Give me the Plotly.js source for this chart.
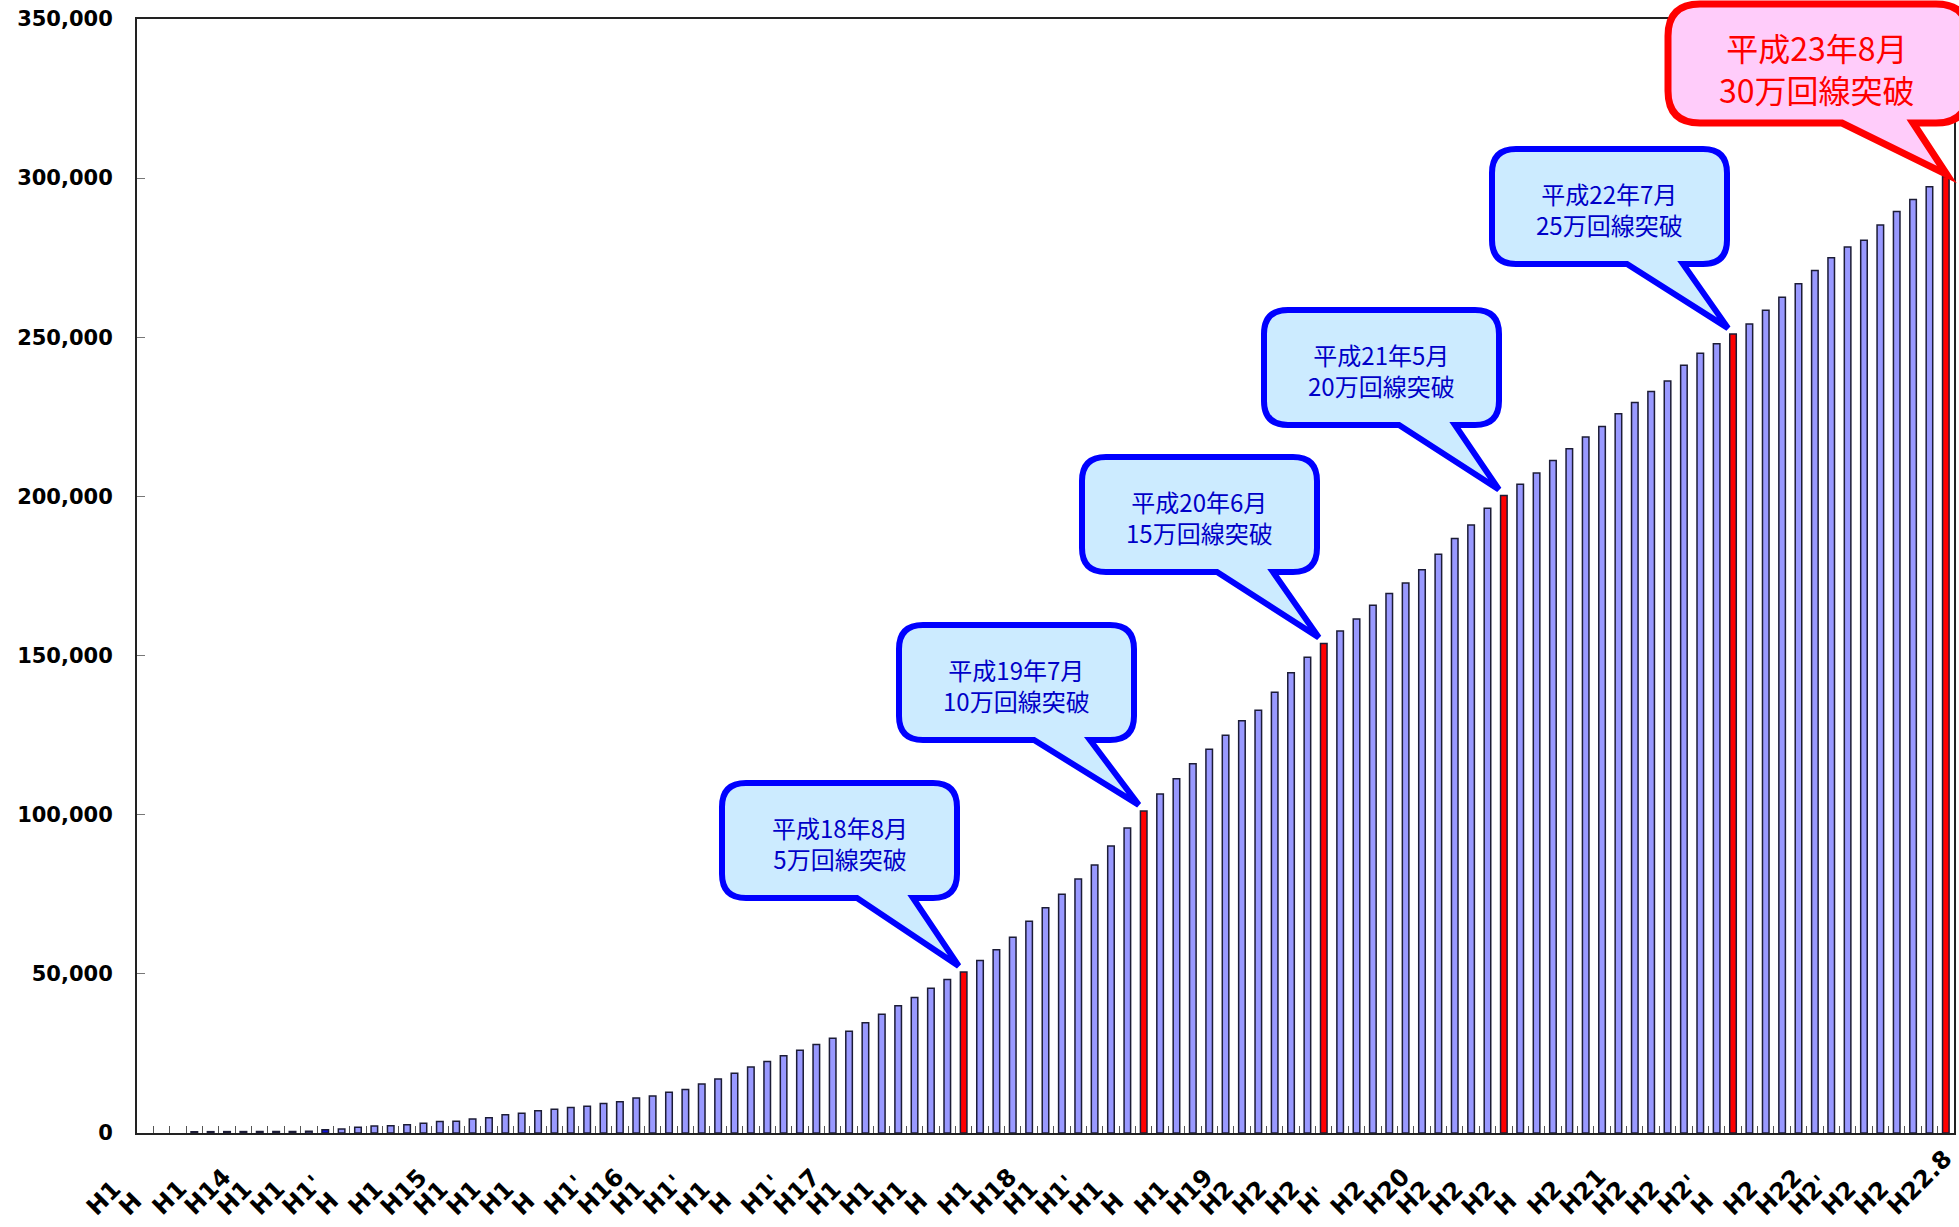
<!DOCTYPE html>
<html>
<head>
<meta charset="utf-8">
<script src="https://cdn.plot.ly/plotly-3.0.1.min.js"></script>
<style>html,body{margin:0;padding:0;background:#fff;}</style>
</head>
<body>
<div id="chart" style="width:1959px;height:1227px;"></div>
<script>
// ---------- DATA ----------
// Monthly categories from H14.6 to H23.8
const firstYear = 14, firstMonth = 6, monthCount = 111;
const categories = [];
for (let i = 0; i < monthCount; i++) {
  const m = firstMonth - 1 + i;
  categories.push('H' + (firstYear + Math.floor(m / 12)) + '.' + (m % 12 + 1));
}

// Cumulative number of lines
const lineCounts = [
  null, null, null, 400, 420, 440, 450, 470, 480, 500,
  520, 1000, 1250, 1800, 2200, 2300, 2600, 3100, 3600, 3700,
  4400, 4800, 5700, 6200, 7000, 7500, 8000, 8400, 9300, 9800,
  11000, 11600, 12800, 13700, 15400, 17000, 18800, 20700, 22500, 24300,
  26000, 27800, 29800, 32000, 34600, 37300, 40000, 42600, 45500, 48200,
  50600, 54200, 57600, 61500, 66500, 70800, 75000, 79800, 84200, 90200,
  95800, 101200, 106500, 111300, 116000, 120600, 125000, 129500, 132800, 138500,
  144600, 149500, 153800, 157700, 161500, 165800, 169500, 172800, 177000, 181800,
  186800, 191000, 196300, 200300, 203800, 207400, 211300, 215000, 218700, 222000,
  226000, 229500, 233000, 236300, 241200, 245000, 248000, 251000, 254200, 258500,
  262600, 266800, 271000, 275000, 278400, 280500, 285300, 289500, 293300, 297300,
  300500
];

// Milestone months (highlighted bars) and the first full month
const milestoneCats = ['H18.8', 'H19.7', 'H20.6', 'H21.5', 'H22.7', 'H23.8'];
const startCat = 'H15.5';

// Callout texts
const calloutLine1 = ['平成18年8月', '平成19年7月', '平成20年6月', '平成21年5月', '平成22年7月', '平成23年8月'];
const calloutLine2 = ['5万回線突破', '10万回線突破', '15万回線突破', '20万回線突破', '25万回線突破', '30万回線突破'];

// X tick labels as shown (one every two months)
const xTickLabels = [
  'H1', 'H', 'H1', 'H14', 'H1', 'H1', "H1'", 'H', 'H1', 'H15',
  'H1', 'H1', 'H1', 'H', "H1'", 'H16', 'H1', "H1'", 'H1', 'H',
  "H1'", 'H17', 'H1', 'H1', 'H1', 'H', 'H1', 'H18', 'H1', "H1'",
  'H1', 'H', 'H1', 'H19', 'H2', 'H2', 'H2', "H'", 'H2', 'H20',
  'H2', 'H2', 'H2', 'H', 'H2', 'H21', 'H2', 'H2', "H2'", 'H',
  'H2', 'H22', "H2'", 'H2', 'H2', 'H22.8'
];

const yTickVals = [0, 50000, 100000, 150000, 200000, 250000, 300000, 350000];

// ---------- LAYOUT GEOMETRY ----------
const W = 1959, H = 1227;
const M = {l: 137, r: 5, t: 19, b: 94};
const PW = W - M.l - M.r, PH = H - M.t - M.b;
const XR = [-0.5, categories.length - 0.5];
const YR = [0, 350000];
const pxX = px => (px - M.l) / PW;
const pxY = py => (H - M.b - py) / PH;
const catPx = i => M.l + (i - XR[0]) / (XR[1] - XR[0]) * PW;
const valPy = v => H - M.b - (v - YR[0]) / (YR[1] - YR[0]) * PH;

// callout box placement (pixels): left, top
const calloutBoxes = [[722, 783], [899, 625], [1082, 457], [1264, 310], [1492, 149], [1668, 4]];

const barColors = categories.map(c =>
  milestoneCats.includes(c) ? '#FF0000' : (c === startCat ? '#1010E0' : '#9999FF'));

function P(x, y) { return pxX(x).toFixed(6) + ',' + pxY(y).toFixed(6); }
function calloutPath(L, T, w, h, r, b0, b1, tx, ty) {
  return 'M' + P(L + r, T) +
    ' L' + P(L + w - r, T) +
    ' Q' + P(L + w, T) + ' ' + P(L + w, T + r) +
    ' L' + P(L + w, T + h - r) +
    ' Q' + P(L + w, T + h) + ' ' + P(L + w - r, T + h) +
    ' L' + P(L + b1, T + h) +
    ' L' + P(tx, ty) +
    ' L' + P(L + b0, T + h) +
    ' L' + P(L + r, T + h) +
    ' Q' + P(L, T + h) + ' ' + P(L, T + h - r) +
    ' L' + P(L, T + r) +
    ' Q' + P(L, T) + ' ' + P(L + r, T) + ' Z';
}

const shapes = [];
const annotations = [];

milestoneCats.forEach((cat, i) => {
  const idx = categories.indexOf(cat);
  const v = lineCounts[idx];
  const [L, T] = calloutBoxes[i];
  const isLast = i === milestoneCats.length - 1;
  if (!isLast) {
    const w = 235, h = 115;
    const tx = catPx(idx) - 5, ty = valPy(v) - 6;
    shapes.push({type: 'path', xref: 'paper', yref: 'paper', layer: 'above',
      path: calloutPath(L, T, w, h, 24, 135, 191, tx, ty),
      fillcolor: '#CCEBFF', line: {color: '#0000FF', width: 6}});
    annotations.push({xref: 'paper', yref: 'paper', x: pxX(L + w / 2), y: pxY(T + 60),
      xanchor: 'center', yanchor: 'middle', showarrow: false,
      text: calloutLine1[i] + '<br>' + calloutLine2[i],
      font: {family: 'Noto Sans CJK JP', size: 24, color: '#0000C8'}});
  } else {
    const w = 300, h = 119;
    const tx = catPx(idx) + 1, ty = valPy(v) - 2;
    shapes.push({type: 'path', xref: 'paper', yref: 'paper', layer: 'above',
      path: calloutPath(L, T, w, h, 32, 174, 245, tx, ty),
      fillcolor: '#FFCCFA', line: {color: '#FF0000', width: 7}});
    annotations.push({xref: 'paper', yref: 'paper', x: pxX(1817), y: pxY(T + 64),
      xanchor: 'center', yanchor: 'middle', showarrow: false,
      text: calloutLine1[i] + '<br>' + calloutLine2[i],
      font: {family: 'Noto Sans CJK JP', size: 32, color: '#FF0000'}});
  }
});

// rotated x labels, one every two categories
xTickLabels.forEach((t, k) => {
  annotations.push({xref: 'paper', yref: 'paper',
    x: pxX(catPx(2 * k) - 66), y: pxY(1222),
    xanchor: 'left', yanchor: 'bottom', showarrow: false, text: t, textangle: -45,
    borderpad: 0,
    font: {family: 'DejaVu Sans', size: 24, color: '#000000', weight: 'bold'}});
});

const trace = {
  type: 'bar',
  x: categories,
  y: lineCounts,
  marker: {color: barColors, line: {color: '#1c1c36', width: 1.5}},
  hoverinfo: 'skip'
};

const layout = {
  width: W, height: H, autosize: false,
  margin: M,
  paper_bgcolor: '#FFFFFF', plot_bgcolor: '#FFFFFF',
  showlegend: false,
  bargap: 0.6,
  xaxis: {
    type: 'category', range: XR, fixedrange: true,
    showline: true, mirror: true, linecolor: '#222222', linewidth: 2,
    ticks: 'inside', ticklen: 7, tickcolor: '#555555', tickwidth: 1,
    tickson: 'boundaries', tickmode: 'linear', tick0: 0, dtick: 1,
    showticklabels: false, showgrid: false, zeroline: false
  },
  yaxis: {
    range: YR, fixedrange: true,
    showline: true, mirror: true, linecolor: '#222222', linewidth: 2,
    ticks: 'inside', ticklen: 8, tickcolor: '#777777', tickwidth: 1,
    tickmode: 'array', tickvals: yTickVals, tickformat: ',d',
    tickfont: {family: 'DejaVu Sans', size: 21, color: '#000000', weight: 'bold'},
    ticklabelstandoff: 18,
    showgrid: false, zeroline: false
  },
  shapes: shapes,
  annotations: annotations
};

Plotly.newPlot('chart', [trace], layout, {staticPlot: true, displayModeBar: false});
</script>
</body>
</html>
